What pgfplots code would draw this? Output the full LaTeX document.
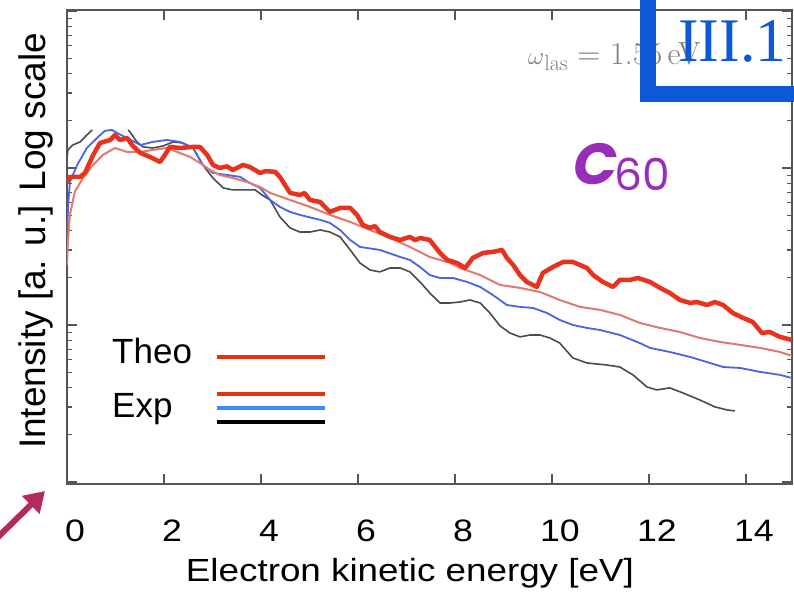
\documentclass[border=0pt]{standalone}
\usepackage[no-math]{fontspec}
\setmainfont{Liberation Sans}
\newfontfamily\stretchedsans{Liberation Sans}[FakeStretch=1.15]
\newfontfamily\serifblue{Liberation Serif}
\newfontfamily\roundfont{Poppins}
\newfontfamily\lmfont{Latin Modern Roman}
\usepackage{pgfplots}
\pgfplotsset{compat=1.18}
\usetikzlibrary{arrows.meta}
\definecolor{theored}{RGB}{232,50,30}
\definecolor{expred}{RGB}{226,120,112}
\definecolor{expblue}{RGB}{72,100,228}
\definecolor{expblack}{RGB}{75,75,75}
\definecolor{legred}{RGB}{228,48,20}
\definecolor{legblue}{RGB}{62,140,248}
\definecolor{blueframe}{RGB}{12,88,214}
\definecolor{c60purple}{RGB}{152,45,185}
\definecolor{arrowcol}{RGB}{180,42,95}
\definecolor{framegray}{RGB}{85,85,85}
\begin{document}
\begin{tikzpicture}
\path[use as bounding box] (-67pt,-109pt) rectangle (727pt,484pt);
\begin{axis}[
  scale only axis, width=725pt, height=474pt,
  xmin=0, xmax=14.95, ymin=-3.013, ymax=0.006,
  axis line style={draw=framegray, line width=1.6pt},
  xtick={0,2,...,14}, ytick={-3,-2,-1,0},
  minor ytick={-2.699,-2.523,-2.398,-2.301,-2.222,-2.155,-2.097,-2.046,
               -1.699,-1.523,-1.398,-1.301,-1.222,-1.155,-1.097,-1.046,
               -0.699,-0.523,-0.398,-0.301,-0.222,-0.155,-0.097,-0.046},
  tick align=inside,
  tick style={draw=framegray, line width=1.2pt},
  major tick length=10pt, minor tick length=5pt,
  yticklabels={},
  /pgf/number format/assume math mode=true,
  xticklabel style={font=\stretchedsans\fontsize{31}{31}\selectfont, anchor=base, yshift=-58pt, xshift=8pt},
  xlabel={Electron kinetic energy [eV]},
  xlabel style={font=\stretchedsans\fontsize{32}{32}\selectfont, at={(axis description cs:0.473,0)}, anchor=base, yshift=-97pt},
  ylabel={Intensity [a. u.] Log scale},
  ylabel style={font=\fontsize{37}{37}\selectfont, at={(axis description cs:-0.0303,0.513)}, anchor=base},
  unbounded coords=jump,
]
% Exp black
\addplot[expblack, line width=1.6pt, line join=round] coordinates {
(0,-0.936)(0.02,-0.885)(0.12,-0.854)(0.27,-0.834)(0.41,-0.790)(0.52,-0.758)(0.9,nan)
(1.26,-0.758)(1.30,-0.771)(1.44,-0.834)(1.57,-0.866)(1.77,-0.873)(1.98,-0.860)(2.19,-0.834)
(2.39,-0.841)(2.60,-0.873)(2.80,-0.981)(3.01,-1.064)(3.22,-1.127)(3.42,-1.140)(3.71,-1.140)
(3.88,-1.140)(4.02,-1.172)(4.19,-1.204)(4.39,-1.312)(4.60,-1.382)(4.80,-1.408)(5.01,-1.408)
(5.22,-1.395)(5.42,-1.408)(5.63,-1.439)(5.84,-1.522)(6.04,-1.605)(6.25,-1.650)(6.45,-1.662)
(6.66,-1.637)(6.87,-1.637)(7.07,-1.662)(7.28,-1.726)(7.48,-1.796)(7.69,-1.860)(7.90,-1.860)
(8.10,-1.854)(8.31,-1.841)(8.52,-1.860)(8.72,-1.924)(8.93,-2.006)(9.13,-2.051)(9.34,-2.076)
(9.55,-2.064)(9.75,-2.064)(9.96,-2.083)(10.16,-2.115)(10.43,-2.210)(10.72,-2.242)(11.13,-2.255)
(11.40,-2.268)(11.67,-2.318)(11.96,-2.395)(12.16,-2.414)(12.43,-2.401)(12.70,-2.433)
(13.05,-2.478)(13.36,-2.522)(13.61,-2.541)(13.77,-2.548)
};
% Exp blue
\addplot[expblue, line width=1.8pt, line join=round] coordinates {
(0,-1.522)(0.02,-1.255)(0.06,-1.089)(0.21,-0.981)(0.41,-0.873)(0.62,-0.809)(0.78,-0.764)
(0.93,-0.758)(1.03,-0.777)(1.24,-0.809)(1.51,-0.854)(1.77,-0.834)(2.06,-0.822)(2.33,-0.834)
(2.60,-0.873)(2.80,-0.981)(3.01,-1.032)(3.30,-1.045)(3.57,-1.057)(3.77,-1.096)(3.98,-1.127)
(4.19,-1.204)(4.39,-1.248)(4.60,-1.280)(4.80,-1.299)(5.22,-1.331)(5.42,-1.350)(5.63,-1.395)
(5.84,-1.459)(6.04,-1.503)(6.45,-1.522)(6.87,-1.567)(7.07,-1.586)(7.28,-1.631)(7.48,-1.682)
(7.69,-1.701)(7.96,-1.701)(8.25,-1.726)(8.52,-1.758)(8.78,-1.809)(9.07,-1.873)(9.34,-1.885)
(9.61,-1.892)(9.90,-1.924)(10.16,-1.968)(10.43,-2.000)(10.72,-2.019)(10.99,-2.032)
(11.40,-2.064)(11.81,-2.115)(12.02,-2.146)(12.43,-2.172)(12.85,-2.204)(13.26,-2.242)
(13.53,-2.268)(13.88,-2.274)(14.29,-2.299)(14.70,-2.318)(14.95,-2.338)
};
% Exp red
\addplot[expred, line width=2pt, line join=round] coordinates {
(0,-1.618)(0.02,-1.459)(0.06,-1.299)(0.16,-1.153)(0.33,-1.064)(0.54,-0.981)(0.74,-0.917)
(0.99,-0.873)(1.24,-0.898)(1.51,-0.898)(1.77,-0.885)(2.06,-0.873)(2.27,-0.898)(2.54,-0.930)
(2.74,-0.968)(2.95,-1.013)(3.15,-1.045)(3.42,-1.064)(3.71,-1.089)(3.98,-1.121)(4.19,-1.159)
(4.60,-1.204)(5.01,-1.248)(5.42,-1.299)(5.84,-1.344)(6.25,-1.395)(6.66,-1.446)(7.07,-1.503)
(7.48,-1.567)(7.90,-1.605)(8.10,-1.637)(8.52,-1.682)(8.93,-1.745)(9.34,-1.764)(9.75,-1.790)
(10.16,-1.841)(10.58,-1.885)(10.99,-1.904)(11.40,-1.936)(11.81,-1.987)(12.23,-2.019)
(12.64,-2.045)(13.05,-2.083)(13.46,-2.108)(13.88,-2.127)(14.29,-2.146)(14.70,-2.172)(14.95,-2.197)
};
% Theo
\addplot[theored, line width=4.5pt, line join=round] coordinates {
(0,-1.089)(0.06,-1.057)(0.27,-1.057)(0.37,-1.032)(0.54,-0.917)(0.68,-0.841)(0.89,-0.822)
(0.99,-0.790)(1.09,-0.822)(1.24,-0.809)(1.34,-0.854)(1.51,-0.904)(1.71,-0.930)(1.92,-0.962)
(2.06,-0.898)(2.12,-0.866)(2.33,-0.873)(2.60,-0.866)(2.74,-0.866)(2.89,-0.917)(3.01,-0.981)
(3.15,-1.000)(3.30,-0.990)(3.42,-1.013)(3.63,-0.981)(3.77,-0.994)(3.98,-1.032)(4.10,-1.020)(4.29,-1.025)(4.39,-1.057)
(4.60,-1.159)(4.80,-1.172)(4.90,-1.160)(5.01,-1.204)(5.22,-1.217)(5.42,-1.280)(5.63,-1.255)(5.84,-1.255)
(5.98,-1.299)(6.10,-1.363)(6.25,-1.382)(6.35,-1.370)(6.45,-1.408)(6.66,-1.439)(6.87,-1.459)(7.07,-1.439)
(7.18,-1.460)(7.28,-1.446)(7.48,-1.459)(7.69,-1.541)(7.84,-1.586)(8.04,-1.605)(8.21,-1.637)(8.37,-1.573)
(8.58,-1.541)(8.78,-1.535)(8.97,-1.522)(9.07,-1.573)(9.20,-1.618)(9.34,-1.682)(9.48,-1.726)
(9.69,-1.758)(9.81,-1.669)(10.02,-1.631)(10.23,-1.599)(10.43,-1.599)(10.58,-1.618)
(10.72,-1.637)(10.85,-1.682)(11.05,-1.726)(11.26,-1.758)(11.40,-1.713)(11.61,-1.713)
(11.77,-1.701)(12.02,-1.726)(12.23,-1.764)(12.43,-1.796)(12.64,-1.841)(12.85,-1.860)
(12.99,-1.854)(13.20,-1.873)(13.36,-1.854)(13.53,-1.873)(13.73,-1.924)(13.94,-1.955)
(14.14,-1.981)(14.33,-2.051)(14.49,-2.045)(14.70,-2.076)(14.95,-2.096)
};
\end{axis}
% omega label
\node[anchor=base west, inner sep=0, text={rgb,255:red,125;green,125;blue,125}, font=\lmfont\fontsize{32}{32}\selectfont] at (461pt,419pt) {$\omega$\raisebox{-6pt}{\fontsize{22}{22}\selectfont las} = 1.55\,eV};
% blue frame
\draw[line width=16pt, blueframe, line join=miter] (581pt,495pt) -- (581pt,389.5pt) -- (735pt,389.5pt);
\node[anchor=base west, inner sep=0, text=blueframe, font=\serifblue\fontsize{62}{62}\selectfont] at (611pt,422pt) {III.1};
% C60
\node[anchor=base west, inner sep=0, text=c60purple, font=\roundfont\fontsize{58}{58}\selectfont\bfseries\itshape] at (506pt,299pt) {C};
\node[anchor=base west, inner sep=0, text=c60purple, font=\roundfont\fontsize{44}{44}\selectfont] at (547pt,293pt) {60};
% legend
\node[anchor=base west, inner sep=0, font=\fontsize{35}{35}\selectfont] at (45pt,120pt) {Theo};
\node[anchor=base west, inner sep=0, font=\fontsize{35}{35}\selectfont] at (45pt,66pt) {Exp};
\draw[line width=4pt, legred] (150pt,127pt) -- (258pt,127pt);
\draw[line width=3.2pt, legred] (150pt,90pt) -- (258pt,90pt);
\draw[line width=3.2pt, legblue] (150pt,76pt) -- (258pt,76pt);
\draw[line width=3.2pt, black] (150pt,62pt) -- (258pt,62pt);
% arrow
\draw[line width=6pt, arrowcol, -{Triangle[length=20pt,width=24pt]}] (-72pt,-56pt) -- (-22pt,-7pt);
\end{tikzpicture}
\end{document}
